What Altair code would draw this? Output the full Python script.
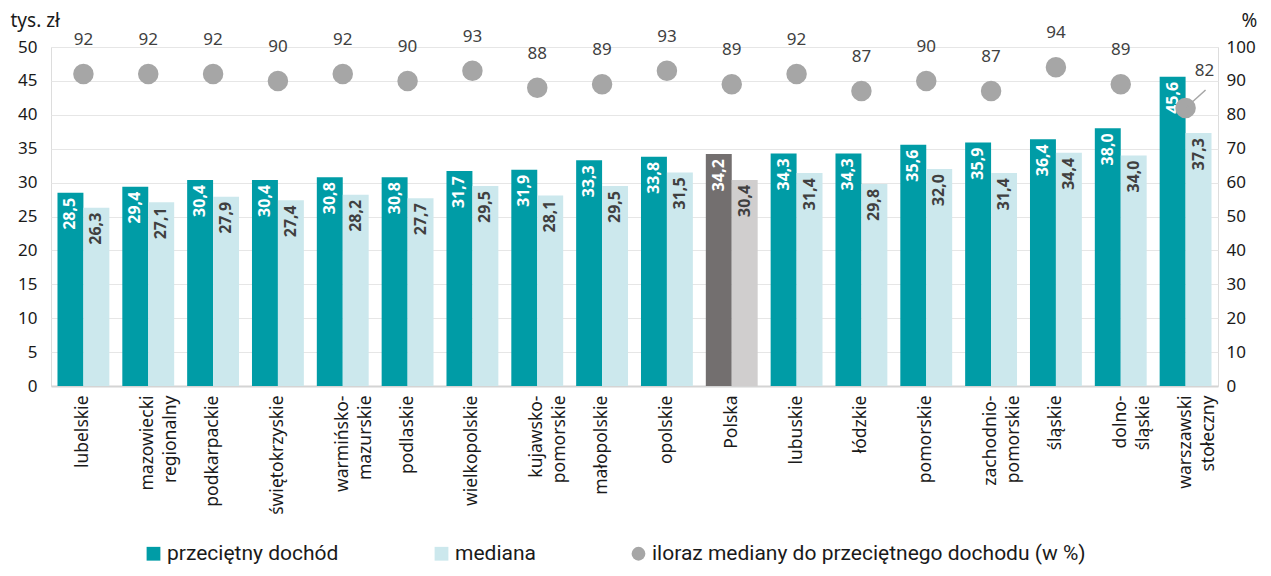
import altair as alt
import pandas as pd

regions = ["lubelskie", "mazowiecki|regionalny", "podkarpackie", "świętokrzyskie",
           "warmińsko-|mazurskie", "podlaskie", "wielkopolskie", "kujawsko-|pomorskie",
           "małopolskie", "opolskie", "Polska", "lubuskie", "łódzkie", "pomorskie",
           "zachodnio-|pomorskie", "śląskie", "dolno-|śląskie", "warszawski|stołeczny"]
avg = [28.5, 29.4, 30.4, 30.4, 30.8, 30.8, 31.7, 31.9, 33.3, 33.8, 34.2, 34.3, 34.3, 35.6, 35.9, 36.4, 38.0, 45.6]
med = [26.3, 27.1, 27.9, 27.4, 28.2, 27.7, 29.5, 28.1, 29.5, 31.5, 30.4, 31.4, 29.8, 32.0, 31.4, 34.4, 34.0, 37.3]
ratio = [92, 92, 92, 90, 92, 90, 93, 88, 89, 93, 89, 92, 87, 90, 87, 94, 89, 82]

S_AVG = "przeciętny dochód"
S_MED = "mediana"
S_RAT = "iloraz mediany do przeciętnego dochodu (w %)"
P_AVG = "Polska – przeciętny"
P_MED = "Polska – mediana"
domain = [S_AVG, S_MED, S_RAT, P_AVG, P_MED]
colors = ["#009CA6", "#CCE8ED", "#A6A6A6", "#736F6F", "#D0CECE"]
shapes = ["square", "square", "circle", "square", "square"]

FONT = "Noto Sans"

rows = []
for r, a, m in zip(regions, avg, med):
    pol = r == "Polska"
    rows.append(dict(region=r, grp="a", cat=P_AVG if pol else S_AVG, value=a,
                     lab=f"{a:.1f}".replace(".", ","), tcolor="#FFFFFF"))
    rows.append(dict(region=r, grp="b", cat=P_MED if pol else S_MED, value=m,
                     lab=f"{m:.1f}".replace(".", ","), tcolor="#404040"))
bars_df = pd.DataFrame(rows)
rat_df = pd.DataFrame(dict(region=regions, ratio=ratio, cat=[S_RAT] * len(regions)))
last_name = "warszawski|stołeczny"
rat_df["islast"] = rat_df.region == last_name

xenc = alt.X("region:N", sort=regions, title=None,
             scale=alt.Scale(paddingInner=0.2, paddingOuter=0.1),
             axis=alt.Axis(labelAngle=-90, labelExpr="split(datum.label, '|')",
                           labelFontSize=17.5, labelColor="#1A1A1A", labelPadding=9,
                           ticks=False, grid=False, domainColor="#D4D4D4", domainWidth=2,
                           labelFont=FONT, labelLineHeight=23))
xoff = alt.XOffset("grp:N", scale=alt.Scale(domain=["a", "b"], paddingInner=0, paddingOuter=0))

yleft = alt.Y("value:Q", scale=alt.Scale(domain=[0, 50], nice=False),
              axis=alt.Axis(values=list(range(0, 51, 5)), tickCount=11, title="tys. zł",
                            titleAngle=0, titleX=-41, titleY=-27, titleAlign="left",
                            titleBaseline="middle", titleFontWeight="normal", titleFontSize=19,
                            titleFont=FONT, titleColor="#1A1A1A",
                            labelFontSize=17, labelFont=FONT, labelColor="#1A1A1A",
                            ticks=False, domain=False, grid=True, gridColor="#E6E6E6",
                            labelPadding=14, labelOverlap=False))

yright = alt.Y("ratio:Q", scale=alt.Scale(domain=[0, 100], nice=False),
               axis=alt.Axis(values=list(range(0, 101, 10)), tickCount=11, orient="right",
                             title="%", titleAngle=0, titleX=31, titleY=-27, titleAlign="center",
                             titleBaseline="middle", titleFontWeight="normal", titleFontSize=19,
                             titleFont=FONT, titleColor="#1A1A1A",
                             labelFontSize=17, labelFont=FONT, labelColor="#1A1A1A",
                             ticks=False, domain=False, grid=False, labelPadding=8,
                             labelOverlap=False))

color_enc = alt.Color("cat:N", scale=alt.Scale(domain=domain, range=colors),
                      legend=alt.Legend(values=[S_AVG, S_MED, S_RAT], title=None,
                                        orient="none", direction="horizontal",
                                        legendX=92, legendY=496, columnPadding=92,
                                        labelFontSize=21, labelFont="Roboto",
                                        labelColor="#1A1A1A", symbolSize=190, labelLimit=700,
                                        symbolStrokeWidth=0, labelOffset=3))

bars = alt.Chart(bars_df).mark_bar().encode(
    x=xenc, xOffset=xoff, y=yleft, color=color_enc)

bar_text = alt.Chart(bars_df).mark_text(angle=270, align="right", baseline="middle",
                                        dx=-5, fontSize=16, fontWeight="bold", font=FONT).encode(
    x=xenc, xOffset=xoff, y=yleft,
    text="lab:N", color=alt.Color("tcolor:N", scale=None, legend=None))

points = alt.Chart(rat_df).mark_point(filled=True, size=420, opacity=1).encode(
    x=xenc, y=yright, color=color_enc,
    shape=alt.Shape("cat:N", scale=alt.Scale(domain=domain, range=shapes), legend=None))

pt_text = alt.Chart(rat_df).transform_filter("!datum.islast").mark_text(
    dy=-34, fontSize=17, font=FONT, color="#404040", baseline="middle").encode(
    x=xenc, y=yright, text="ratio:Q")
last_text = alt.Chart(rat_df).transform_filter("datum.islast").mark_text(
    dx=19, dy=-37, fontSize=17, font=FONT, color="#404040", baseline="middle").encode(
    x=xenc, y=yright, text="ratio:Q")
leader = alt.Chart(rat_df).transform_filter("datum.islast").mark_rule(
    color="#A6A6A6", strokeWidth=1.5, x2Offset=20, y2Offset=-18).encode(
    x=xenc, x2="region:N", y=yright, y2="ratio:Q")

left = alt.layer(bars, bar_text)
right = alt.layer(points, leader, pt_text, last_text)

chart = alt.layer(left, right).resolve_scale(y="independent").properties(
    width=1167, height=339,
    autosize=alt.AutoSizeParams(type="none"),
    padding={"left": 43, "top": 39, "right": 45, "bottom": 182},
).configure_view(stroke=None).configure(font=FONT)

chart.save("out.html", embed_options={"renderer": "svg", "actions": False})
